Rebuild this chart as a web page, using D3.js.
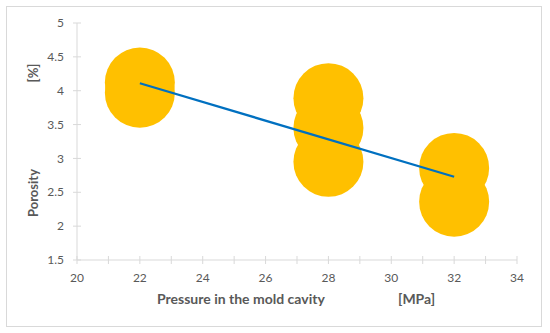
<!DOCTYPE html>
<html>
<head>
<meta charset="utf-8">
<script src="https://cdn.jsdelivr.net/npm/d3@7"></script>
<style>
  body { margin: 0; background: #fff; }
  text { font-family: Lato, "Open Sans", sans-serif; }
</style>
</head>
<body>
<div id="chart"></div>
<script>
// data
var pressure = [22, 22, 28, 28, 28, 32, 32];
var porosity = [4.12, 3.97, 3.89, 3.45, 2.95, 2.86, 2.36];
var trendX = [22, 32];
var trendY = [4.11, 2.73];
var xTicks = [20, 22, 24, 26, 28, 30, 32, 34];
var xMinor = d3.range(20, 35, 1);
var yTicks = [1.5, 2, 2.5, 3, 3.5, 4, 4.5, 5];

var W = 550, H = 333;
var margin = {top: 23, right: 33, bottom: 73, left: 77},
    width = W - margin.left - margin.right,
    height = H - margin.top - margin.bottom;

var svg = d3.select("#chart")
  .append("svg")
    .attr("width", W)
    .attr("height", H);

// outer frame
svg.append("rect")
  .attr("x", 6.5).attr("y", 6.5)
  .attr("width", 535).attr("height", 320)
  .attr("fill", "#fff")
  .attr("stroke", "#d9d9d9")
  .attr("stroke-width", 1);

var g = svg.append("g")
  .attr("transform", "translate(" + margin.left + "," + margin.top + ")");

var x = d3.scaleLinear().domain([20, 34]).range([0, width]);
var y = d3.scaleLinear().domain([1.5, 5]).range([height, 0]);

var axisCol = "#d9d9d9", textCol = "#595959";

// x axis: minor cross ticks every 1, labels every 2
var xAxis = g.append("g")
  .attr("transform", "translate(0," + height + ")");
xAxis.append("line")
  .attr("x1", 0).attr("x2", width)
  .attr("stroke", axisCol);
xAxis.selectAll("line.tk")
  .data(xMinor)
  .enter().append("line")
    .attr("class", "tk")
    .attr("x1", function(d) { return x(d); })
    .attr("x2", function(d) { return x(d); })
    .attr("y1", -4).attr("y2", 4)
    .attr("stroke", axisCol);
xAxis.selectAll("text")
  .data(xTicks)
  .enter().append("text")
    .attr("x", function(d) { return x(d); })
    .attr("y", 22)
    .attr("text-anchor", "middle")
    .style("font-size", "12px")
    .style("fill", textCol)
    .text(function(d) { return d; });

// y axis
var yAxis = g.append("g");
yAxis.append("line")
  .attr("y1", 0).attr("y2", height)
  .attr("stroke", axisCol);
yAxis.selectAll("line.tk")
  .data(yTicks)
  .enter().append("line")
    .attr("class", "tk")
    .attr("x1", -4).attr("x2", 4)
    .attr("y1", function(d) { return y(d); })
    .attr("y2", function(d) { return y(d); })
    .attr("stroke", axisCol);
yAxis.selectAll("text")
  .data(yTicks)
  .enter().append("text")
    .attr("x", -13)
    .attr("y", function(d) { return y(d); })
    .attr("dy", "0.35em")
    .attr("text-anchor", "end")
    .style("font-size", "12px")
    .style("fill", textCol)
    .text(function(d) { return d; });

// big markers
g.append("g")
  .selectAll("circle")
  .data(pressure)
  .enter().append("circle")
    .attr("cx", function(d) { return x(d); })
    .attr("cy", function(d, i) { return y(porosity[i]); })
    .attr("r", 35)
    .style("fill", "#ffc000");

// trend line
g.append("line")
  .attr("x1", x(trendX[0])).attr("y1", y(trendY[0]))
  .attr("x2", x(trendX[1])).attr("y2", y(trendY[1]))
  .attr("stroke", "#0070c0")
  .attr("stroke-width", 2.25);

// axis titles
svg.append("text")
  .attr("x", 157).attr("y", 304)
  .style("font-size", "14px")
  .style("font-weight", "bold")
  .style("fill", textCol)
  .text("Pressure in the mold cavity");
svg.append("text")
  .attr("x", 398).attr("y", 304)
  .style("font-size", "14px")
  .style("font-weight", "bold")
  .style("fill", textCol)
  .text("[MPa]");

svg.append("text")
  .attr("transform", "translate(38,193) rotate(-90)")
  .attr("text-anchor", "middle")
  .style("font-size", "13px")
  .style("font-weight", "bold")
  .style("fill", textCol)
  .text("Porosity");
svg.append("text")
  .attr("transform", "translate(38,73) rotate(-90)")
  .attr("text-anchor", "middle")
  .style("font-size", "13px")
  .style("font-weight", "bold")
  .style("fill", textCol)
  .text("[%]");
</script>
</body>
</html>
